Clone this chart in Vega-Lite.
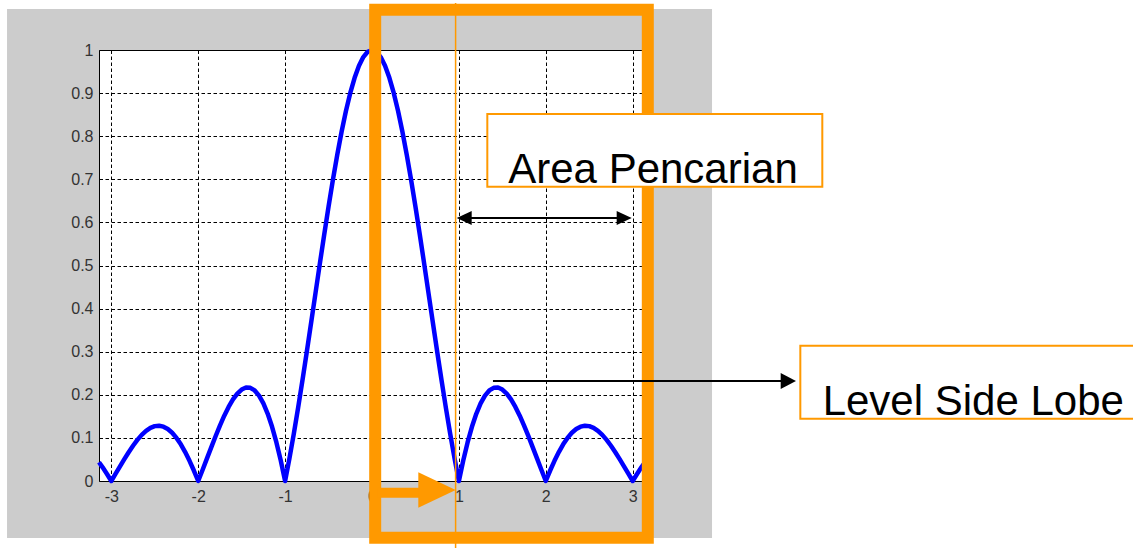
{
  "$schema": "https://vega.github.io/schema/vega-lite/v6.json",
  "autosize": {"type": "none"},
  "width": 546,
  "height": 431,
  "padding": {"left": 99, "top": 50, "right": 488, "bottom": 67},
  "background": "#cccccc",
  "view": {"fill": "#ffffff", "stroke": "#000000", "strokeWidth": 1},
  "config": {
    "axis": {
      "domain": false,
      "ticks": false,
      "tickSize": 0,
      "grid": true,
      "gridColor": "#000000",
      "gridOpacity": 1,
      "gridWidth": 1,
      "gridDash": [3.5, 2.5]
    }
  },
  "layer": [
    {
      "data": {"values": [
        {"x": -3.1416, "y": 0.0436}, {"x": -3.1, "y": 0.0317}, {"x": -3.05, "y": 0.0163}, {"x": -3.0, "y": 0},
        {"x": -2.95, "y": 0.0169}, {"x": -2.9, "y": 0.0339}, {"x": -2.85, "y": 0.0507}, {"x": -2.8, "y": 0.0668},
        {"x": -2.75, "y": 0.0818}, {"x": -2.7, "y": 0.0954}, {"x": -2.65, "y": 0.1070}, {"x": -2.6, "y": 0.1164},
        {"x": -2.55, "y": 0.1233}, {"x": -2.5, "y": 0.1273}, {"x": -2.45, "y": 0.1283}, {"x": -2.4, "y": 0.1261},
        {"x": -2.35, "y": 0.1207}, {"x": -2.3, "y": 0.1120}, {"x": -2.25, "y": 0.1000}, {"x": -2.2, "y": 0.0850},
        {"x": -2.15, "y": 0.0672}, {"x": -2.1, "y": 0.0468}, {"x": -2.05, "y": 0.0243}, {"x": -2.0, "y": 0},
        {"x": -1.95, "y": 0.0255}, {"x": -1.9, "y": 0.0518}, {"x": -1.85, "y": 0.0781}, {"x": -1.8, "y": 0.1039},
        {"x": -1.75, "y": 0.1286}, {"x": -1.7, "y": 0.1515}, {"x": -1.65, "y": 0.1719}, {"x": -1.6, "y": 0.1892},
        {"x": -1.55, "y": 0.2028}, {"x": -1.5, "y": 0.2122}, {"x": -1.45, "y": 0.2168}, {"x": -1.4, "y": 0.2162},
        {"x": -1.35, "y": 0.2101}, {"x": -1.3, "y": 0.1981}, {"x": -1.25, "y": 0.1801}, {"x": -1.2, "y": 0.1559},
        {"x": -1.15, "y": 0.1257}, {"x": -1.1, "y": 0.0894}, {"x": -1.05, "y": 0.0474}, {"x": -1.0, "y": 0},
        {"x": -0.95, "y": 0.0524}, {"x": -0.9, "y": 0.1093}, {"x": -0.85, "y": 0.1700}, {"x": -0.8, "y": 0.2339},
        {"x": -0.75, "y": 0.3001}, {"x": -0.7, "y": 0.3679}, {"x": -0.65, "y": 0.4363}, {"x": -0.6, "y": 0.5046},
        {"x": -0.55, "y": 0.5716}, {"x": -0.5, "y": 0.6366}, {"x": -0.45, "y": 0.6987}, {"x": -0.4, "y": 0.7568},
        {"x": -0.35, "y": 0.8103}, {"x": -0.3, "y": 0.8584}, {"x": -0.25, "y": 0.9003}, {"x": -0.2, "y": 0.9355},
        {"x": -0.15, "y": 0.9634}, {"x": -0.1, "y": 0.9836}, {"x": -0.05, "y": 0.9959}, {"x": 0, "y": 1},
        {"x": 0.05, "y": 0.9959}, {"x": 0.1, "y": 0.9836}, {"x": 0.15, "y": 0.9634}, {"x": 0.2, "y": 0.9355},
        {"x": 0.25, "y": 0.9003}, {"x": 0.3, "y": 0.8584}, {"x": 0.35, "y": 0.8103}, {"x": 0.4, "y": 0.7568},
        {"x": 0.45, "y": 0.6987}, {"x": 0.5, "y": 0.6366}, {"x": 0.55, "y": 0.5716}, {"x": 0.6, "y": 0.5046},
        {"x": 0.65, "y": 0.4363}, {"x": 0.7, "y": 0.3679}, {"x": 0.75, "y": 0.3001}, {"x": 0.8, "y": 0.2339},
        {"x": 0.85, "y": 0.1700}, {"x": 0.9, "y": 0.1093}, {"x": 0.95, "y": 0.0524}, {"x": 1.0, "y": 0},
        {"x": 1.05, "y": 0.0474}, {"x": 1.1, "y": 0.0894}, {"x": 1.15, "y": 0.1257}, {"x": 1.2, "y": 0.1559},
        {"x": 1.25, "y": 0.1801}, {"x": 1.3, "y": 0.1981}, {"x": 1.35, "y": 0.2101}, {"x": 1.4, "y": 0.2162},
        {"x": 1.45, "y": 0.2168}, {"x": 1.5, "y": 0.2122}, {"x": 1.55, "y": 0.2028}, {"x": 1.6, "y": 0.1892},
        {"x": 1.65, "y": 0.1719}, {"x": 1.7, "y": 0.1515}, {"x": 1.75, "y": 0.1286}, {"x": 1.8, "y": 0.1039},
        {"x": 1.85, "y": 0.0781}, {"x": 1.9, "y": 0.0518}, {"x": 1.95, "y": 0.0255}, {"x": 2.0, "y": 0},
        {"x": 2.05, "y": 0.0243}, {"x": 2.1, "y": 0.0468}, {"x": 2.15, "y": 0.0672}, {"x": 2.2, "y": 0.0850},
        {"x": 2.25, "y": 0.1000}, {"x": 2.3, "y": 0.1120}, {"x": 2.35, "y": 0.1207}, {"x": 2.4, "y": 0.1261},
        {"x": 2.45, "y": 0.1283}, {"x": 2.5, "y": 0.1273}, {"x": 2.55, "y": 0.1233}, {"x": 2.6, "y": 0.1164},
        {"x": 2.65, "y": 0.1070}, {"x": 2.7, "y": 0.0954}, {"x": 2.75, "y": 0.0818}, {"x": 2.8, "y": 0.0668},
        {"x": 2.85, "y": 0.0507}, {"x": 2.9, "y": 0.0339}, {"x": 2.95, "y": 0.0169}, {"x": 3.0, "y": 0},
        {"x": 3.05, "y": 0.0163}, {"x": 3.1, "y": 0.0317}, {"x": 3.1416, "y": 0.0436}
      ]},
      "mark": {"type": "line", "color": "#0000ff", "strokeWidth": 4.5, "strokeJoin": "round"},
      "encoding": {
        "x": {
          "field": "x", "type": "quantitative", "title": null,
          "scale": {"domain": [-3.1416, 3.1416], "nice": false, "zero": false},
          "axis": {
            "title": null,
            "values": [-3, -2, -1, 0, 1, 2, 3],
            "labelFont": "Liberation Sans",
            "labelFontSize": 16,
            "labelColor": "#333333",
            "labelPadding": 7,
            "labelBaseline": "top",
            "labelExpr": "datum.value < 0 ? '-' + abs(datum.value) : '' + datum.value"
          }
        },
        "y": {
          "field": "y", "type": "quantitative", "title": null,
          "scale": {"domain": [0, 1], "nice": false, "zero": false},
          "axis": {
            "title": null,
            "values": [0, 0.1, 0.2, 0.3, 0.4, 0.5, 0.6, 0.7, 0.8, 0.9, 1],
            "labelFont": "Liberation Sans",
            "labelFontSize": 16,
            "labelColor": "#333333",
            "labelPadding": 6,
            "labelExpr": "'' + datum.value"
          }
        }
      }
    },
    {
      "data": {"values": [
        {"x1": 3.913, "x2": 9.0, "y1": -0.25, "y2": 1.25},
        {"x1": -4.6, "x2": -4.2, "y1": -0.25, "y2": 1.25},
        {"x1": -4.6, "x2": 9.0, "y1": 1.0951, "y2": 1.25},
        {"x1": -4.6, "x2": 9.0, "y1": -0.25, "y2": -0.1323}
      ]},
      "mark": {"type": "rect", "fill": "#ffffff", "strokeWidth": 0},
      "encoding": {
        "x": {"field": "x1", "type": "quantitative", "title": null},
        "x2": {"field": "x2"},
        "y": {"field": "y1", "type": "quantitative", "title": null},
        "y2": {"field": "y2"}
      }
    },
    {
      "data": {"values": [{}]},
      "mark": {"type": "rect", "fill": "#ff9900", "fillOpacity": 0, "stroke": "#ff9900", "strokeWidth": 12},
      "encoding": {
        "x": {"datum": 0.0368, "type": "quantitative", "title": null},
        "x2": {"datum": 3.1738},
        "y": {"datum": -0.1318, "type": "quantitative", "title": null},
        "y2": {"datum": 1.0933}
      }
    },
    {
      "data": {"values": [{}]},
      "mark": {"type": "rule", "color": "#ff9900", "strokeWidth": 1.5},
      "encoding": {
        "x": {"datum": 0.962, "type": "quantitative", "title": null},
        "y": {"datum": -0.16, "type": "quantitative", "title": null},
        "y2": {"datum": 1.109}
      }
    },
    {
      "data": {"values": [{}]},
      "mark": {"type": "rule", "color": "#ff9900", "strokeWidth": 10},
      "encoding": {
        "x": {"datum": 0.06, "type": "quantitative", "title": null},
        "x2": {"datum": 0.58},
        "y": {"datum": -0.0271, "type": "quantitative", "title": null}
      }
    },
    {
      "data": {"values": [{}]},
      "mark": {"type": "point", "shape": "M-1,-0.95L1,0L-1,0.95Z", "filled": true, "fill": "#ff9900", "fillOpacity": 1, "strokeWidth": 0, "size": 1399},
      "encoding": {
        "x": {"datum": 0.748, "type": "quantitative", "title": null},
        "y": {"datum": -0.0209, "type": "quantitative", "title": null}
      }
    },
    {
      "data": {"values": [{}]},
      "mark": {"type": "rule", "color": "#000000", "strokeWidth": 2},
      "encoding": {
        "x": {"datum": 1.03, "type": "quantitative", "title": null},
        "x2": {"datum": 2.93},
        "y": {"datum": 0.61, "type": "quantitative", "title": null}
      }
    },
    {
      "data": {"values": [{}]},
      "mark": {"type": "point", "shape": "M-1,-0.93L1,0L-1,0.93Z", "filled": true, "fill": "#000000", "fillOpacity": 1, "strokeWidth": 0, "size": 225},
      "encoding": {
        "x": {"datum": 2.902, "type": "quantitative", "title": null},
        "y": {"datum": 0.61, "type": "quantitative", "title": null}
      }
    },
    {
      "data": {"values": [{}]},
      "mark": {"type": "point", "shape": "M1,-0.93L-1,0L1,0.93Z", "filled": true, "fill": "#000000", "fillOpacity": 1, "strokeWidth": 0, "size": 225},
      "encoding": {
        "x": {"datum": 1.061, "type": "quantitative", "title": null},
        "y": {"datum": 0.61, "type": "quantitative", "title": null}
      }
    },
    {
      "data": {"values": [{}]},
      "mark": {"type": "rule", "color": "#000000", "strokeWidth": 2},
      "encoding": {
        "x": {"datum": 1.392, "type": "quantitative", "title": null},
        "x2": {"datum": 4.72},
        "y": {"datum": 0.232, "type": "quantitative", "title": null}
      }
    },
    {
      "data": {"values": [{}]},
      "mark": {"type": "point", "shape": "M-1,-1.05L1,0L-1,1.05Z", "filled": true, "fill": "#000000", "fillOpacity": 1, "strokeWidth": 0, "size": 234},
      "encoding": {
        "x": {"datum": 4.791, "type": "quantitative", "title": null},
        "y": {"datum": 0.232, "type": "quantitative", "title": null}
      }
    },
    {
      "data": {"values": [
        {"x1": 1.327, "x2": 5.182, "y1": 0.6828, "y2": 0.8515},
        {"x1": 4.929, "x2": 8.9, "y1": 0.1445, "y2": 0.3139}
      ]},
      "mark": {"type": "rect", "fill": "#ffffff", "stroke": "#ff9900", "strokeWidth": 2},
      "encoding": {
        "x": {"field": "x1", "type": "quantitative", "title": null},
        "x2": {"field": "x2"},
        "y": {"field": "y1", "type": "quantitative", "title": null},
        "y2": {"field": "y2"}
      }
    },
    {
      "data": {"values": [
        {"label": "Area Pencarian", "x": 1.568, "y": 0.6921},
        {"label": "Level Side Lobe", "x": 5.186, "y": 0.1531}
      ]},
      "mark": {"type": "text", "align": "left", "baseline": "alphabetic", "font": "Liberation Sans", "fontSize": 42, "color": "#000000"},
      "encoding": {
        "x": {"field": "x", "type": "quantitative", "title": null},
        "y": {"field": "y", "type": "quantitative", "title": null},
        "text": {"field": "label"}
      }
    }
  ]
}
